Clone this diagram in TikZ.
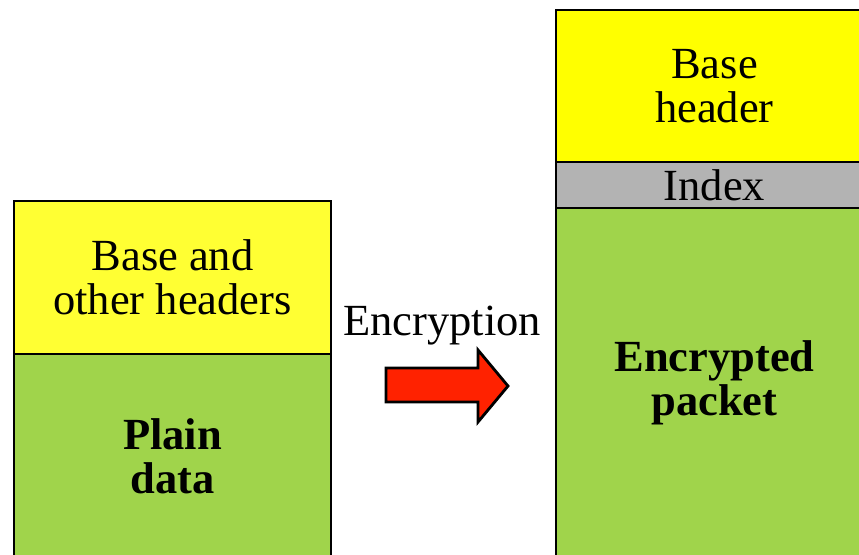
\documentclass[tikz,border=0pt]{standalone}
\usepackage{fontspec}
\setmainfont{Liberation Serif}
\definecolor{hdrleft}{HTML}{FFFF33}
\definecolor{hdrright}{HTML}{FFFF00}
\definecolor{payload}{HTML}{A0D44B}
\definecolor{idxgray}{HTML}{B3B3B3}
\definecolor{arrowred}{HTML}{FF2200}
\tikzset{
  part/.style={draw=black,line width=2.8pt,minimum width=317pt,inner sep=0pt,
    align=center,font=\fontsize{44.5}{44}\selectfont},
  boldpart/.style={part,font=\fontsize{44.5}{44}\selectfont\bfseries}
}
\begin{document}
\begin{tikzpicture}[x=1pt,y=-1pt]
  \useasboundingbox (0,0) rectangle (859,554);
  % plain packet
  \node[part,fill=hdrleft,minimum height=153pt] (lhdr) at (172.5,277.5) {Base and\\other headers};
  \node[boldpart,fill=payload,minimum height=204pt] (ldata) at (172.5,456) {Plain\\data};
  % encrypted packet
  \node[part,fill=hdrright,minimum height=152pt] (rhdr) at (714.5,86) {Base\\header};
  \node[part,fill=idxgray,minimum height=46pt] (ridx) at (714.5,185) {Index};
  \node[boldpart,fill=payload,minimum height=350pt] (rdata) at (714.5,383) {Encrypted\\packet};
  % encryption step
  \node[font=\fontsize{44.5}{44}\selectfont,inner sep=0pt] (enc) at (442,326) {Encryption};
  \draw[line width=2.8pt,fill=arrowred,line join=miter]
    (386,368) -- (478,368) -- (478,350) -- (508,386) -- (478,422) -- (478,402) -- (386,402) -- cycle;
\end{tikzpicture}
\end{document}
